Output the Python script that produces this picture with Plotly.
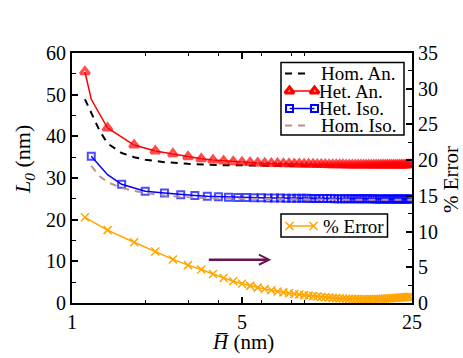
import plotly.graph_objects as go

# x grids (nm)
H_an = [1.13, 1.2, 1.4, 1.8, 2.2, 2.6, 3.0, 3.4, 3.8, 4.2, 4.6, 5.0, 5.4, 5.8,
        6.2, 6.6, 7.0, 7.4, 7.8, 8.2, 8.6, 9.0, 9.4, 9.8, 10.2, 10.6, 11.0, 11.4,
        11.8, 12.2, 12.6, 13.0, 13.4, 13.8, 14.2, 14.6, 15.0, 15.4, 15.8, 16.2,
        16.6, 17.0, 17.4, 17.8, 18.2, 18.6, 19.0, 19.4, 19.8, 20.2, 20.6, 21.0,
        21.4, 21.8, 22.2, 22.6, 23.0, 23.4, 23.8, 24.2, 24.6]
H_iso = [1.2, 1.4, 1.6, 2.0, 2.4, 2.8, 3.2, 3.6, 4.0, 4.4, 4.8, 5.2, 5.6,
         6.0, 6.4, 6.8, 7.2, 7.6, 8.0, 8.4, 8.8, 9.2, 9.6, 10.0, 10.4, 10.8,
         11.2, 11.6, 12.0, 12.4, 12.8, 13.2, 13.6, 14.0, 14.4, 14.8, 15.2, 15.6,
         16.0, 16.4, 16.8, 17.2, 17.6, 18.0, 18.4, 18.8, 19.2, 19.6, 20.0, 20.4,
         20.8, 21.2, 21.6, 22.0, 22.4, 22.8, 23.2, 23.6, 24.0, 24.4, 24.8]
H_hom_an = [1.13, 1.2, 1.3, 1.4, 1.6, 1.8, 2.0, 2.4, 3.0, 4.0, 5.0, 6.0, 8.0, 10.0, 15.0, 20.0, 25.0]
H_hom_iso = [1.2, 1.3, 1.4, 1.6, 1.8, 2.0, 2.4, 3.0, 4.0, 5.0, 7.0, 10.0, 15.0, 20.0, 25.0]
H_err = [h for h in H_an if h != 1.2]

# L0 (nm)
het_an = [55.5, 48.9, 42.0, 37.9, 36.5, 35.8, 35.1, 34.6, 34.3, 34.1, 33.9, 33.8, 33.7, 33.6,
          33.55, 33.5, 33.47, 33.44, 33.4, 33.37, 33.35, 33.32, 33.3, 33.28, 33.26, 33.24,
          33.22, 33.2, 33.19, 33.18, 33.17, 33.16, 33.15, 33.14, 33.13, 33.12, 33.11, 33.1,
          33.1, 33.1, 33.1, 33.1, 33.1, 33.1, 33.1, 33.1, 33.1, 33.1, 33.11, 33.11, 33.12,
          33.12, 33.13, 33.13, 33.14, 33.14, 33.15, 33.15, 33.16, 33.16, 33.17]
het_iso = [35.2, 30.8, 28.5, 26.8, 26.4, 26.0, 25.8, 25.6, 25.5, 25.4, 25.35, 25.3, 25.27,
           25.24, 25.22, 25.2, 25.18, 25.16, 25.15, 25.14, 25.13, 25.12, 25.11, 25.1, 25.09,
           25.08, 25.07, 25.06, 25.05, 25.05, 25.04, 25.04, 25.03, 25.03, 25.02, 25.02, 25.01,
           25.01, 25.0, 25.0, 25.0, 25.0, 24.99, 24.99, 24.99, 24.99, 24.98, 24.98, 24.98,
           24.98, 24.97, 24.97, 24.97, 24.97, 24.96, 24.96, 24.96, 24.96, 24.95, 24.95, 24.95]
hom_an = [48.9, 45.6, 41.3, 38.3, 36.0, 35.0, 34.4, 33.8, 33.4, 33.1, 33.0, 32.95, 32.9, 32.9, 32.9, 32.9, 32.9]
hom_iso = [32.9, 30.4, 29.0, 27.6, 26.9, 26.4, 25.8, 25.4, 25.1, 25.0, 24.9, 24.85, 24.8, 24.8, 24.8]

# % Error (right axis)
pct_err = [12.0, 10.2, 8.5, 7.2, 6.1, 5.3, 4.7, 4.05, 3.5, 3.05, 2.7, 2.4, 2.15,
           1.95, 1.78, 1.62, 1.49, 1.37, 1.27, 1.18, 1.1, 1.03, 0.96, 0.9, 0.85, 0.8,
           0.76, 0.72, 0.68, 0.65, 0.62, 0.6, 0.58, 0.56, 0.55, 0.54, 0.53, 0.53, 0.53,
           0.53, 0.54, 0.55, 0.56, 0.57, 0.58, 0.6, 0.61, 0.63, 0.65, 0.67, 0.69, 0.71,
           0.73, 0.75, 0.77, 0.79, 0.81, 0.83, 0.85, 0.87]

legend_names = ["Hom. An.", "Het. An.", "Het. Iso.", "Hom. Iso."]
err_name = "% Error"

FONT = "Liberation Serif"
RED, BLUE, ORANGE, ROSY = "red", "blue", "orange", "rosybrown"

tri = dict(symbol="triangle-up-open", size=8, color=RED, line=dict(width=3, color=RED))
sq = dict(symbol="square-open", size=7, color=BLUE, line=dict(width=2, color=BLUE))
xm = dict(symbol="x-thin", size=8, color=ORANGE, line=dict(width=1.5, color=ORANGE))

an_sizes = [8] * len(H_an)
an_sizes[1] = 0
iso_sizes = [7] * len(H_iso)
iso_sizes[1] = 0

fig = go.Figure()
fig.add_trace(go.Scatter(x=H_hom_an, y=hom_an, mode="lines",
                         line=dict(color="black", width=2, dash="7px,6px")))
fig.add_trace(go.Scatter(x=H_an, y=het_an, mode="lines+markers",
                         line=dict(color=RED, width=1.5), marker={**tri, "size": an_sizes}))
fig.add_trace(go.Scatter(x=H_iso, y=het_iso, mode="lines+markers",
                         line=dict(color=BLUE, width=1.5), marker={**sq, "size": iso_sizes}))
fig.add_trace(go.Scatter(x=H_hom_iso, y=hom_iso, mode="lines",
                         line=dict(color=ROSY, width=2, dash="7px,6px")))
fig.add_trace(go.Scatter(x=H_err, y=pct_err, mode="lines+markers", yaxis="y2",
                         line=dict(color=ORANGE, width=1.5), marker=xm))

# legend keys, drawn by hand (plot-area fractions)
def px(x):
    return (x - 72) / 340

def py(y):
    return (303 - y) / 250

rows = [73.5, 91, 108.5, 125.5]
key_styles = [
    dict(mode="lines", line=dict(color="black", width=2, dash="7px,6px")),
    dict(mode="lines+markers", line=dict(color=RED, width=1.5), marker=tri),
    dict(mode="lines+markers", line=dict(color=BLUE, width=1.5), marker=sq),
    dict(mode="lines", line=dict(color=ROSY, width=2, dash="7px,6px")),
]
text_x = [320, 317.5, 317.5, 320]
for name, yy, st, tx in zip(legend_names, rows, key_styles, text_x):
    if st["mode"] == "lines":
        xs = [px(285), px(311)]
    else:
        xs = [px(289.5), px(314.5)]
    fig.add_trace(go.Scatter(x=xs, y=[py(yy)] * 2, xaxis="x3", yaxis="y3", **st))
    fig.add_annotation(x=px(tx), y=py(yy), xref="paper", yref="paper", text=name,
                       showarrow=False, xanchor="left", yanchor="middle", height=17,
                       borderpad=0, font=dict(family=FONT, size=19, color="black"))
fig.add_trace(go.Scatter(x=[px(289.5), px(313.5)], y=[py(226)] * 2, xaxis="x3", yaxis="y3",
                         mode="lines+markers", line=dict(color=ORANGE, width=1.5), marker=xm))
fig.add_annotation(x=px(322), y=py(226), xref="paper", yref="paper", text=err_name,
                   showarrow=False, xanchor="left", yanchor="middle", height=17, borderpad=0,
                   font=dict(family=FONT, size=19, color="black"))
fig.add_shape(type="rect", xref="paper", yref="paper", x0=px(281), x1=px(404), y0=py(135), y1=py(62.5),
              line=dict(color="black", width=1.5), fillcolor="white", layer="below")
fig.add_shape(type="rect", xref="paper", yref="paper", x0=px(281), x1=px(387.5), y0=py(237), y1=py(214),
              line=dict(color="black", width=1.5), fillcolor="white", layer="below")

# arrow pointing to the right axis
fig.add_annotation(x=0.8195, y=10.4, xref="x", yref="y", ax=-64, ay=0,
                   showarrow=True, arrowhead=5, arrowsize=0.8, arrowwidth=2.5,
                   arrowcolor="#6b1450", text="")

# axis titles
fig.add_annotation(x=px(24), y=py(160), xref="paper", yref="paper", text="<i>L<sub>0</sub></i> (nm)",
                   textangle=-90, showarrow=False, xanchor="center", yanchor="middle",
                   font=dict(family=FONT, size=22, color="black"))
fig.add_annotation(x=px(451), y=py(180), xref="paper", yref="paper", text="% Error",
                   textangle=-90, showarrow=False, xanchor="center", yanchor="middle",
                   font=dict(family=FONT, size=21, color="black"))
fig.add_annotation(x=px(243), y=py(341.5), xref="paper", yref="paper", text="<i>H\u0305</i> (nm)",
                   showarrow=False, xanchor="center", yanchor="middle",
                   font=dict(family=FONT, size=21, color="black"))

axis_common = dict(showline=True, linecolor="black", linewidth=2, ticks="inside",
                   tickcolor="black", tickwidth=1.5, ticklen=6, showgrid=False,
                   zeroline=False, tickfont=dict(family=FONT, size=20, color="black"))

fig.update_layout(
    width=463, height=358,
    margin=dict(l=72, r=51, t=53, b=55),
    paper_bgcolor="white", plot_bgcolor="white",
    font=dict(family=FONT, size=20, color="black"),
    showlegend=False,
    xaxis=dict(type="log", range=[0, 1.39794], tickvals=[1, 5, 25], ticktext=["1", "5", "25"],
               mirror="ticks",
               minor=dict(tickvals=[2, 3, 4, 6, 8, 9], ticks="inside", ticklen=3,
                          tickwidth=1.2, tickcolor="black"),
               **axis_common),
    yaxis=dict(range=[0, 60], dtick=10,
               minor=dict(dtick=5, ticks="inside", ticklen=4, tickwidth=1.2, tickcolor="black"),
               **axis_common),
    yaxis2=dict(range=[0, 35], dtick=5, overlaying="y", side="right",
                minor=dict(dtick=2.5, ticks="inside", ticklen=4, tickwidth=1.2, tickcolor="black"),
                **axis_common),
    xaxis3=dict(range=[0, 1], overlaying="x", visible=False),
    yaxis3=dict(range=[0, 1], overlaying="y", anchor="x3", visible=False),
)

# page body has a default 8px margin; drop it so the figure sits at the window corner
fig.write_html("out.html", config={"displayModeBar": False},
               post_script="document.body.style.margin='0px';")
